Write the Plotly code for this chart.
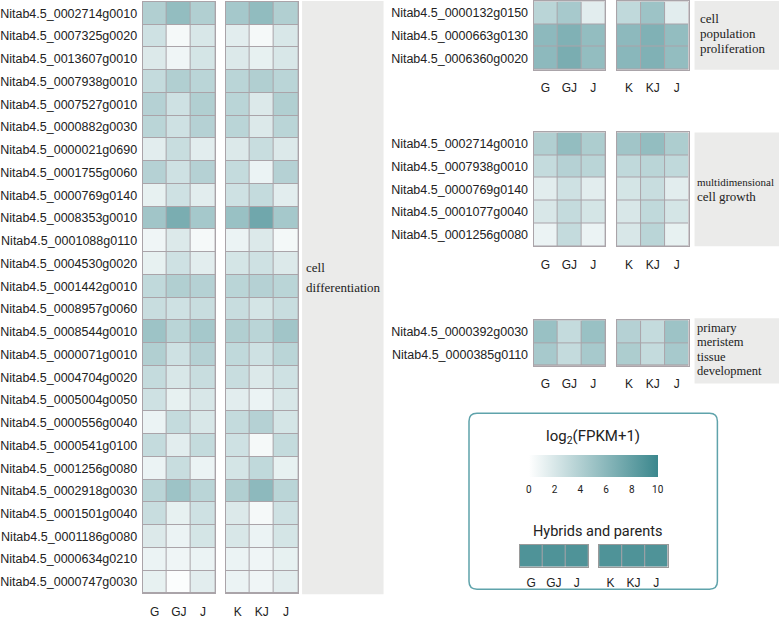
import plotly.graph_objects as go

W, H = 779, 619

samples_a = ["G", "GJ", "J"]
samples_b = ["K", "KJ", "J"]

# cell differentiation
genes_diff = [
    "Nitab4.5_0002714g0010", "Nitab4.5_0007325g0020", "Nitab4.5_0013607g0010",
    "Nitab4.5_0007938g0010", "Nitab4.5_0007527g0010", "Nitab4.5_0000882g0030",
    "Nitab4.5_0000021g0690", "Nitab4.5_0001755g0060", "Nitab4.5_0000769g0140",
    "Nitab4.5_0008353g0010", "Nitab4.5_0001088g0110", "Nitab4.5_0004530g0020",
    "Nitab4.5_0001442g0010", "Nitab4.5_0008957g0060", "Nitab4.5_0008544g0010",
    "Nitab4.5_0000071g0010", "Nitab4.5_0004704g0020", "Nitab4.5_0005004g0050",
    "Nitab4.5_0000556g0040", "Nitab4.5_0000541g0100", "Nitab4.5_0001256g0080",
    "Nitab4.5_0002918g0030", "Nitab4.5_0001501g0040", "Nitab4.5_0001186g0080",
    "Nitab4.5_0000634g0210", "Nitab4.5_0000747g0030",
]
diff_a = [
    [4.0, 5.5, 4.0], [2.5, 0.5, 2.0], [1.8, 0.8, 2.2], [3.0, 4.0, 3.5],
    [3.8, 2.5, 4.0], [3.5, 2.5, 3.8], [1.5, 2.8, 1.5], [3.8, 2.5, 3.8],
    [1.2, 2.5, 1.5], [4.8, 6.8, 4.6], [0.8, 1.8, 0.5], [1.2, 2.5, 1.5],
    [3.2, 4.0, 3.8], [2.8, 2.5, 2.8], [5.0, 3.5, 4.6], [4.0, 2.5, 3.8],
    [3.0, 2.0, 2.8], [2.5, 1.2, 2.0], [1.0, 3.0, 2.0], [3.0, 1.5, 3.0],
    [1.0, 2.8, 1.0], [3.5, 5.0, 3.5], [2.8, 1.2, 2.5], [1.8, 1.0, 2.2],
    [1.0, 0.8, 1.0], [1.2, 0.2, 1.5],
]
diff_b = [
    [4.6, 5.6, 4.0], [1.5, 0.5, 2.0], [1.8, 1.2, 2.0], [3.5, 4.0, 3.5],
    [3.5, 1.8, 4.0], [3.5, 1.8, 3.5], [1.8, 2.8, 1.8], [3.0, 1.0, 3.8],
    [2.5, 3.0, 1.5], [5.2, 7.3, 4.6], [1.0, 1.8, 0.6], [2.2, 2.5, 1.8],
    [3.5, 3.8, 3.5], [2.8, 2.2, 2.8], [4.0, 3.5, 4.8], [3.2, 2.5, 3.5],
    [2.8, 1.8, 2.5], [1.5, 1.0, 2.0], [3.0, 3.8, 2.2], [2.5, 0.5, 3.0],
    [2.2, 3.2, 1.2], [4.0, 5.8, 3.5], [1.8, 0.5, 2.5], [2.0, 1.0, 2.2],
    [1.0, 0.8, 1.2], [1.0, 0.8, 1.5],
]

# cell population proliferation
genes_prol = ["Nitab4.5_0000132g0150", "Nitab4.5_0000663g0130", "Nitab4.5_0006360g0020"]
prol_a = [[3.5, 4.5, 1.5], [5.8, 6.5, 5.5], [5.8, 6.8, 5.5]]
prol_b = [[3.2, 5.0, 1.5], [5.8, 6.5, 5.5], [6.0, 6.5, 5.5]]

# multidimensional cell growth
genes_grow = ["Nitab4.5_0002714g0010", "Nitab4.5_0007938g0010", "Nitab4.5_0000769g0140",
              "Nitab4.5_0001077g0040", "Nitab4.5_0001256g0080"]
grow_a = [[4.0, 5.5, 4.2], [3.0, 3.8, 3.5], [1.5, 2.5, 1.5], [2.0, 3.0, 2.2], [1.0, 3.0, 1.0]]
grow_b = [[4.8, 5.5, 4.2], [3.2, 3.5, 3.2], [2.2, 2.8, 1.5], [2.0, 3.2, 2.2], [2.0, 3.5, 1.2]]

# primary meristem tissue development
genes_mer = ["Nitab4.5_0000392g0030", "Nitab4.5_0000385g0110"]
mer_a = [[5.2, 3.0, 5.2], [4.5, 3.0, 4.5]]
mer_b = [[3.8, 3.0, 5.0], [4.2, 3.0, 4.5]]

legend_level = [9, 9, 9]
cbar_ticks = [0, 2, 4, 6, 8, 10]

colorscale = [[0, "#ffffff"], [1, "#3b878d"]]
grid_col = "#aaa4a9"
sans = "Liberation Sans, Arial, sans-serif"
serif = "Liberation Serif, Times New Roman, serif"


def px(x):
    return x / W


def py(y):
    return 1 - y / H


fig = go.Figure()
n_ax = [0]


def add_block(z, genes, cols, x0, x1, y0, y1, show_genes):
    n_ax[0] += 1
    k = n_ax[0]
    xa = "x" if k == 1 else f"x{k}"
    ya = "y" if k == 1 else f"y{k}"
    idx = list(range(len(cols)))
    fig.add_trace(go.Heatmap(
        z=z, x=idx, y=genes, xaxis=xa, yaxis=ya,
        colorscale=colorscale, zmin=0, zmax=10, showscale=False,
        xgap=1, ygap=1, hoverinfo="skip",
    ))
    sfx = "" if k == 1 else str(k)
    fig.update_layout(**{
        f"xaxis{sfx}": dict(
            domain=[px(x0), px(x1)], anchor=ya, showgrid=False, zeroline=False,
            showline=True, mirror=True, linecolor=grid_col, linewidth=1,
            tickvals=idx, ticktext=cols, ticks="", ticklabelstandoff=7,
            tickfont=dict(family=sans, size=12, color="#222"), fixedrange=True,
        ),
        f"yaxis{sfx}": dict(
            domain=[py(y1), py(y0)], anchor=xa, showgrid=False, zeroline=False,
            showline=True, mirror=True, linecolor=grid_col, linewidth=1,
            autorange="reversed", ticks="", showticklabels=show_genes,
            ticklabelstandoff=2,
            tickfont=dict(family=sans, size=12.5, color="#222"), fixedrange=True,
        ),
    })


# left: cell differentiation
add_block(diff_a, genes_diff, samples_a, 138.5, 211.5, 1, 599, True)
add_block(diff_b, genes_diff, samples_b, 222, 295, 1, 599, False)
# right panels
add_block(prol_a, genes_prol, samples_a, 532, 604, 0.5, 69.5, True)
add_block(prol_b, genes_prol, samples_b, 616, 688, 0.5, 69.5, False)
add_block(grow_a, genes_grow, samples_a, 532, 604, 133, 248, True)
add_block(grow_b, genes_grow, samples_b, 616, 688, 133, 248, False)
add_block(mer_a, genes_mer, samples_a, 532, 604, 323, 369, True)
add_block(mer_b, genes_mer, samples_b, 616, 688, 323, 369, False)

# legend sample boxes; the second one also carries the colour bar
for i, (cols, x0, x1) in enumerate([(samples_a, 518, 587), (samples_b, 598, 667)]):
    n_ax[0] += 1
    k = n_ax[0]
    idx = list(range(len(cols)))
    fig.add_trace(go.Heatmap(
        z=[legend_level], x=idx, y=["legend"], xaxis=f"x{k}", yaxis=f"y{k}",
        colorscale=colorscale, zmin=0, zmax=10, showscale=(i == 1),
        xgap=1, ygap=0, hoverinfo="skip",
        colorbar=dict(
            orientation="h", x=px(592), xanchor="center", y=py(459), yanchor="top",
            len=130 / W, lenmode="fraction", thickness=22, outlinewidth=0,
            xpad=0, ypad=0, tickvals=cbar_ticks, ticks="outside", ticklen=4,
            tickcolor="rgba(0,0,0,0)", ticklabelposition="outside bottom",
            tickfont=dict(family="Roboto, sans-serif", size=10, color="#222"),
        ),
    ))
    fig.update_layout(**{
        f"xaxis{k}": dict(domain=[px(x0), px(x1)], anchor=f"y{k}", showgrid=False,
                          zeroline=False, showline=True, mirror=True, linecolor="#9a9a9a",
                          tickvals=idx, ticktext=cols, ticks="", ticklabelstandoff=5,
                          fixedrange=True,
                          tickfont=dict(family=sans, size=12, color="#222")),
        f"yaxis{k}": dict(domain=[py(572), py(550)], anchor=f"x{k}", showgrid=False,
                          zeroline=False, showline=True, mirror=True, linecolor="#9a9a9a",
                          showticklabels=False, ticks="", fixedrange=True),
    })

shapes = []
# grey category boxes
for x0, y0, x1, y1 in [(299, 0, 381, 600), (694, 0, 779, 69.5),
                       (694, 133, 779, 248), (694, 321, 779, 387)]:
    shapes.append(dict(type="rect", xref="paper", yref="paper",
                       x0=px(x0), x1=px(x1), y0=py(y1), y1=py(y0),
                       fillcolor="#ebebea", line=dict(width=0), layer="below"))

# rounded legend frame
lx0, lx1, ly0, ly1, r = 467, 717, 417, 595, 8
path = (f"M {px(lx0 + r)},{py(ly0)} L {px(lx1 - r)},{py(ly0)} "
        f"Q {px(lx1)},{py(ly0)} {px(lx1)},{py(ly0 + r)} L {px(lx1)},{py(ly1 - r)} "
        f"Q {px(lx1)},{py(ly1)} {px(lx1 - r)},{py(ly1)} L {px(lx0 + r)},{py(ly1)} "
        f"Q {px(lx0)},{py(ly1)} {px(lx0)},{py(ly1 - r)} L {px(lx0)},{py(ly0 + r)} "
        f"Q {px(lx0)},{py(ly0)} {px(lx0 + r)},{py(ly0)} Z")
shapes.append(dict(type="path", xref="paper", yref="paper", path=path,
                   line=dict(color="#5fa3ab", width=1.5), fillcolor="rgba(0,0,0,0)"))

annotations = []


def label(text, x, y, size=13, family=serif, anchor="left"):
    annotations.append(dict(text=text, x=px(x), y=py(y), xref="paper", yref="paper",
                            xanchor=anchor, yanchor="middle", showarrow=False,
                            borderpad=0,
                            font=dict(family=family, size=size, color="#222")))


label("cell", 302, 270)
label("differentiation", 302, 290)
label("cell", 698, 18)
label("population", 698, 33)
label("proliferation", 698, 48)
label("multidimensional", 695, 183, size=11)
label("cell growth", 695, 198)
label("primary", 695, 331, size=12.5)
label("meristem", 695, 345, size=12.5)
label("tissue", 695, 360, size=12.5)
label("development", 695, 374, size=12.5)
label("log<sub>2</sub>(FPKM+1)", 592, 441, size=15, family="Roboto, sans-serif", anchor="center")
label("Hybrids and parents", 596, 537, size=14.5, family="Roboto, sans-serif", anchor="center")

fig.update_layout(
    width=W, height=H,
    margin=dict(l=0, r=0, t=0, b=0),
    paper_bgcolor="white",
    plot_bgcolor=grid_col,
    shapes=shapes,
    annotations=annotations,
    showlegend=False,
)

fig.write_html(
    "out.html",
    config={"displayModeBar": False, "staticPlot": True},
    post_script="document.body.style.margin='0';document.body.style.overflow='hidden';",
)
